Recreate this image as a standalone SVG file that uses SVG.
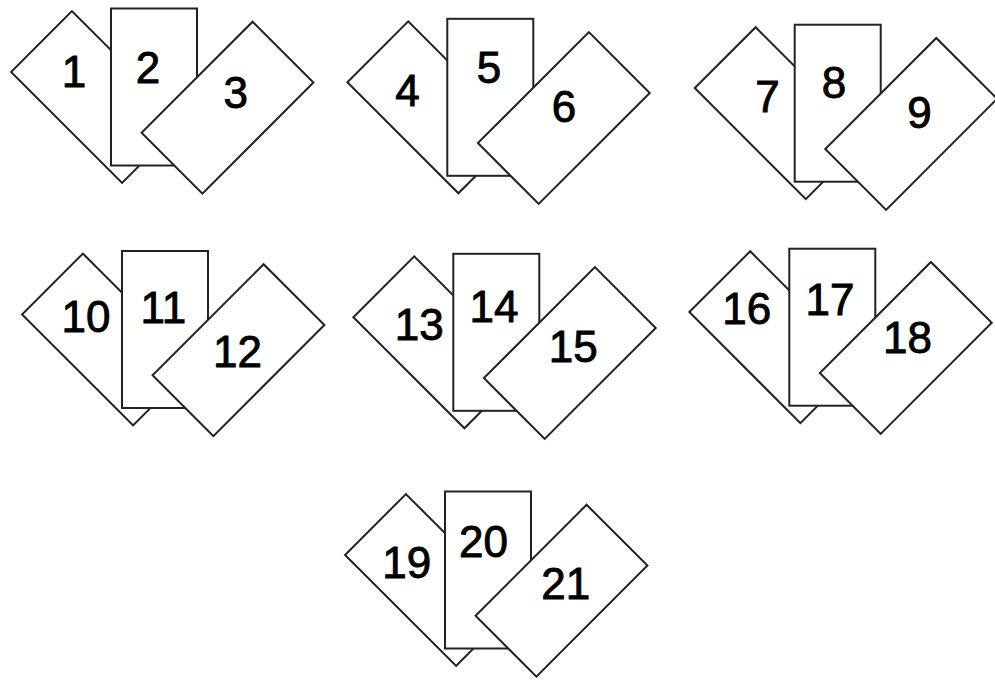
<svg xmlns="http://www.w3.org/2000/svg" width="995" height="680" viewBox="0 0 995 680">
<style>
.card{fill:#fff;stroke:#222;stroke-width:2}
.lbl{font-family:"Liberation Sans",Arial,sans-serif;font-size:44px;fill:#000;stroke:#000;stroke-width:0.9;text-anchor:middle}
</style>
<defs>
<rect id="c" x="-43" y="-78.5" width="86" height="157"/>
</defs>
<rect width="995" height="680" fill="#fff"/>
<g id="connectors"/>
<g id="set1">
<g id="card1"><use href="#c" class="card" transform="translate(97,97) rotate(-45)"/><text class="lbl" x="74" y="87">1</text></g>
<g id="card2"><rect class="card" x="111" y="8.5" width="86" height="157"/><text class="lbl" x="148" y="83">2</text></g>
<g id="card3"><use href="#c" class="card" transform="translate(227.5,107.7) rotate(45)"/><text class="lbl" x="235.7" y="108">3</text></g>
</g>
<g id="set2">
<g id="card4"><use href="#c" class="card" transform="translate(433.3,107.3) rotate(-45)"/><text class="lbl" x="407.5" y="106">4</text></g>
<g id="card5"><rect class="card" x="447.3" y="18.8" width="86" height="157"/><text class="lbl" x="489" y="83">5</text></g>
<g id="card6"><use href="#c" class="card" transform="translate(563.8,118) rotate(45)"/><text class="lbl" x="564" y="122">6</text></g>
</g>
<g id="set3">
<g id="card7"><use href="#c" class="card" transform="translate(780.7,113.2) rotate(-45)"/><text class="lbl" x="767.5" y="112">7</text></g>
<g id="card8"><rect class="card" x="794.7" y="24.7" width="86" height="157"/><text class="lbl" x="834" y="98">8</text></g>
<g id="card9"><use href="#c" class="card" transform="translate(911.2,123.9) rotate(45)"/><text class="lbl" x="919.5" y="128">9</text></g>
</g>
<g id="set4">
<g id="card10"><use href="#c" class="card" transform="translate(108,339.5) rotate(-45)"/><text class="lbl" x="86" y="332">10</text></g>
<g id="card11"><rect class="card" x="122" y="251" width="86" height="157"/><text class="lbl" x="163.3" y="323">11</text></g>
<g id="card12"><use href="#c" class="card" transform="translate(238.5,350.2) rotate(45)"/><text class="lbl" x="237.5" y="366.7">12</text></g>
</g>
<g id="set5">
<g id="card13"><use href="#c" class="card" transform="translate(439.3,342.3) rotate(-45)"/><text class="lbl" x="419.3" y="340">13</text></g>
<g id="card14"><rect class="card" x="453.3" y="253.8" width="86" height="157"/><text class="lbl" x="494" y="322">14</text></g>
<g id="card15"><use href="#c" class="card" transform="translate(569.8,353) rotate(45)"/><text class="lbl" x="573.2" y="361.7">15</text></g>
</g>
<g id="set6">
<g id="card16"><use href="#c" class="card" transform="translate(775.3,337.2) rotate(-45)"/><text class="lbl" x="746.8" y="324">16</text></g>
<g id="card17"><rect class="card" x="789.3" y="248.7" width="86" height="157"/><text class="lbl" x="830" y="315">17</text></g>
<g id="card18"><use href="#c" class="card" transform="translate(905.8,347.9) rotate(45)"/><text class="lbl" x="907.5" y="353">18</text></g>
</g>
<g id="set7">
<g id="card19"><use href="#c" class="card" transform="translate(431,580) rotate(-45)"/><text class="lbl" x="406.8" y="578">19</text></g>
<g id="card20"><rect class="card" x="445" y="491.5" width="86" height="157"/><text class="lbl" x="483.5" y="557">20</text></g>
<g id="card21"><use href="#c" class="card" transform="translate(561.5,590.7) rotate(45)"/><text class="lbl" x="565.8" y="599">21</text></g>
</g>
</svg>
